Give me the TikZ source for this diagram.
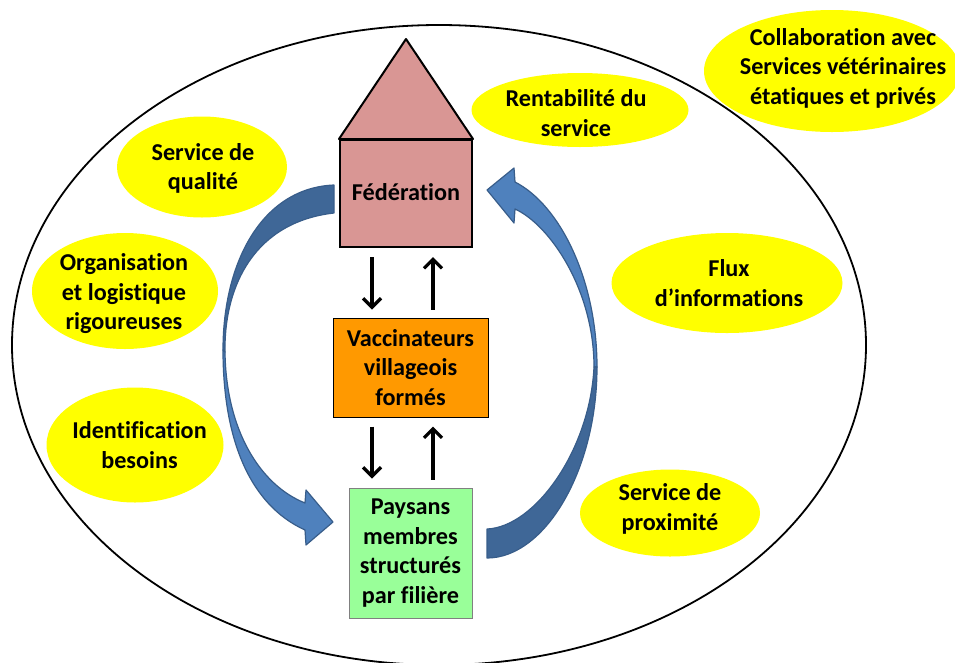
\documentclass[tikz,border=0pt]{standalone}
\usepackage{tikz}
\usepackage{fontspec}
\setmainfont[Ligatures=NoCommon]{Carlito}
\usetikzlibrary{arrows.meta,positioning,shapes.geometric}
\definecolor{bubble}{HTML}{FFFF00}
\definecolor{fedfill}{HTML}{D99694}
\definecolor{vacfill}{HTML}{FF9900}
\definecolor{payfill}{HTML}{99FF99}
\definecolor{bluelight}{HTML}{4F81BD}
\definecolor{bluedark}{HTML}{3F6797}
\definecolor{blueline}{HTML}{385D8A}
\tikzset{
  every node/.style={font=\fontsize{24.2}{29.5}\selectfont\bfseries, align=center},
  bubblenode/.style={ellipse, fill=bubble, inner sep=0pt},
  boxnode/.style={rectangle, draw=black, inner sep=0pt},
  link/.style={line width=3.6pt, -{Straight Barb[length=9pt,width=18pt,line width=3.2pt]}},
  bendshape/.style={draw=blueline, line width=1.2pt, line join=round}
}
\begin{document}
\begin{tikzpicture}[x=1pt,y=-1pt]
  \useasboundingbox (0,0) rectangle (955,662);

  \node[ellipse, draw=black, line width=1.8pt, minimum width=854pt, minimum height=640pt] (outer) at (439,345) {};

  \node[bubblenode, minimum width=256pt, minimum height=122pt] (collab) at (832,71) {};
  \node[bubblenode, minimum width=217pt, minimum height=74pt] (renta) at (580,110) {};
  \node[bubblenode, minimum width=170pt, minimum height=101pt] (qualite) at (202,167) {};
  \node[bubblenode, minimum width=186pt, minimum height=116pt] (orga) at (125,291) {};
  \node[bubblenode, minimum width=177pt, minimum height=115pt] (besoins) at (135,445) {};
  \node[bubblenode, minimum width=231pt, minimum height=100pt] (flux) at (727,283) {};
  \node[bubblenode, minimum width=180pt, minimum height=87pt] (proxi) at (670,513) {};

  \node (collabtext) at (843,68) {Collaboration avec\\Services vétérinaires\\étatiques et privés};
  \node (rentatext) at (576,113) {Rentabilité du\\service};
  \node (qualitetext) at (203,168.5) {Service de\\qualité};
  \node (orgatext) at (124,294) {Organisation\\et logistique\\rigoureuses};
  \node (besoinstext) at (139.5,445) {Identification\\besoins};
  \node (fluxtext) at (729,283) {Flux\\d’informations};
  \node (proxitext) at (670,509) {Service de\\proximité};

  \node[boxnode, fill=fedfill, line width=2pt, minimum width=132pt, minimum height=107pt] (fed) at (406,193.5) {\raisebox{3pt}{Fédération}};
  \node[boxnode, fill=vacfill, line width=1pt, minimum width=155pt, minimum height=99pt] (vac) at (410.5,367.5) {Vaccinateurs\\villageois\\formés};
  \node[boxnode, fill=payfill, draw=gray, line width=1pt, minimum width=123pt, minimum height=130pt] (pay) at (410.5,553) {Paysans\\membres\\structurés\\par filière};
  \coordinate (roof) at (406,39);

  \draw[fill=fedfill, line width=2pt, line join=round] (fed.north west) -- (roof) -- (fed.north east) -- cycle;

  \draw[link, shorten <=9pt, shorten >=8pt] ([xshift=-34pt] fed.south) to ([xshift=-34pt] fed.south |- vac.north);
  \draw[link, shorten <=8pt, shorten >=9pt] ([xshift=27pt] fed.south |- vac.north) to ([xshift=27pt] fed.south);
  \draw[link, shorten <=9pt, shorten >=9pt] ([xshift=-34pt] fed.south |- vac.south) to ([xshift=-34pt] fed.south |- pay.north);
  \draw[link, shorten <=8pt, shorten >=9pt] ([xshift=27pt] fed.south |- pay.north) to ([xshift=27pt] fed.south |- vac.south);

  % left bend
  \draw[bendshape, fill=bluedark] (334,185) .. controls (262,188) and (223,262) .. (223,350)
    -- (225,352) .. controls (224,285) and (255,222) .. (334,213) -- cycle;
  \draw[bendshape, fill=bluelight] (223,350) .. controls (223,440) and (250,505) .. (305,530)
    -- (306,545) -- (333,522) -- (306,490) -- (305,503)
    .. controls (260,485) and (226,430) .. (225,352) -- cycle;

  % right bend
  \draw[bendshape, fill=bluelight] (597,367) .. controls (597,280) and (560,205) .. (515,182)
    -- (514,168) -- (487,190) -- (514,223) -- (515,209)
    .. controls (550,225) and (594,290) .. (594,367) -- cycle;
  \draw[bendshape, fill=bluedark] (597,367) .. controls (597,470) and (545,558) .. (487,558)
    -- (487,529) .. controls (535,527) and (590,450) .. (594,367) -- cycle;
\end{tikzpicture}
\end{document}
